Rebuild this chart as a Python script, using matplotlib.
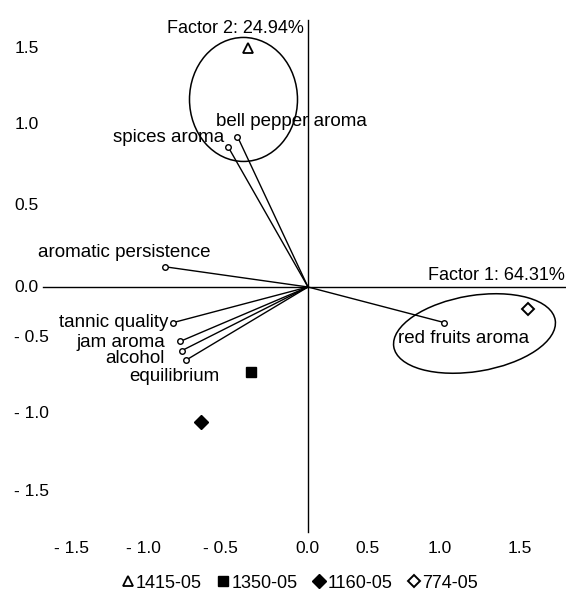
import matplotlib
matplotlib.use("Agg")
import matplotlib.pyplot as plt
from matplotlib.patches import Ellipse
from matplotlib.transforms import ScaledTranslation

plt.rcParams['font.family'] = ['Liberation Sans', 'DejaVu Sans']

# ---- data ----
variables = ["red fruits aroma", "bell pepper aroma", "spices aroma", "aromatic persistence",
             "tannic quality", "jam aroma", "alcohol", "equilibrium"]
var_f1 = [0.91, -0.47, -0.53, -0.95, -0.90, -0.85, -0.84, -0.81]
var_f2 = [-0.23, 0.97, 0.90, 0.13, -0.23, -0.35, -0.41, -0.47]

samples = ["1415-05", "1350-05", "1160-05", "774-05"]
samp_f1 = [-0.40, -0.38, -0.71, 1.47]
samp_f2 = [1.54, -0.55, -0.87, -0.14]

ell_center_f1 = [-0.43, 1.11]
ell_center_f2 = [1.21, -0.30]
ell_width = [0.72, 1.09]
ell_height = [0.80, 0.49]
ell_angle = [0, 9]

tick_values = [-1.5, -1.0, -0.5, 0.0, 0.5, 1.0, 1.5]
tick_labels = ["- 1.5", "- 1.0", "- 0.5", "0.0", "0.5", "1.0", "1.5"]

factor1_label = "Factor 1: 64.31%"
factor2_label = "Factor 2: 24.94%"

# ---- figure ----
W, H, DPI = 566, 599, 100
fig = plt.figure(figsize=(W / DPI, H / DPI), dpi=DPI)
ax = fig.add_axes([60 / W, 59 / H, 1 - 60 / W, 1 - 59 / H])
ax.set_xlim(-1.6533, 1.72)
ax.set_ylim(-1.6323, 1.8516)
for s in ax.spines.values():
    s.set_visible(False)

FS_TICK = 12.5
FS_VAR = 13.5
FS_FACTOR = 13

# axis lines through the origin
ax.plot([-1.767, 1.72], [0, 0], color='black', lw=1.0, clip_on=False)
ax.plot([0, 0], [-1.581, 1.723], color='black', lw=1.0, clip_on=False)

# variable vectors
label_style = {
    "red fruits aroma": (-46, -16, 'left'),
    "bell pepper aroma": (-21, 15, 'left'),
    "spices aroma": (-4, 10, 'right'),
    "aromatic persistence": (-41, 14, 'center'),
    "tannic quality": (-5, 0, 'right'),
    "jam aroma": (-15, -1, 'right'),
    "alcohol": (-17, -8, 'right'),
    "equilibrium": (33, -17, 'right'),
}
for name, x, y in zip(variables, var_f1, var_f2):
    ax.plot([0, x], [0, y], color='black', lw=1.0)
    ax.plot([x], [y], marker='o', ms=4, mfc='white', mec='black', mew=1.0)
    dx, dy, ha = label_style[name]
    ax.annotate(name, (x, y), xytext=(dx, dy), textcoords='offset pixels',
                ha=ha, va='center', fontsize=FS_VAR)

# ellipses
for cx, cy, w, h, a in zip(ell_center_f1, ell_center_f2, ell_width, ell_height, ell_angle):
    ax.add_patch(Ellipse((cx, cy), w, h, angle=a, fill=False, ec='black', lw=1.1))

# samples
marker_styles = [
    dict(marker='^', ms=7, mfc='white', mec='black', mew=1.3),
    dict(marker='s', ms=7, mfc='black', mec='black', mew=1.0),
    dict(marker='D', ms=7.5, mfc='black', mec='black', mew=1.0),
    dict(marker='D', ms=6.5, mfc='white', mec='black', mew=1.4),
]
handles = []
for name, x, y, st in zip(samples, samp_f1, samp_f2, marker_styles):
    h, = ax.plot([x], [y], linestyle='none', label=name, **st)
    handles.append(h)

# factor labels
ax.text(-0.03, 1.67, factor2_label, ha='right', va='center', fontsize=FS_FACTOR)
ax.text(1.713, 0.077, factor1_label, ha='right', va='center', fontsize=FS_FACTOR)

# ticks
ax.set_xticks(tick_values)
ax.set_xticklabels(tick_labels)
ax.set_yticks(tick_values)
ax.set_yticklabels(tick_labels)
ax.tick_params(axis='both', length=0, labelsize=FS_TICK)
ax.tick_params(axis='x', pad=1)
ax.tick_params(axis='y', pad=33)
for lab in ax.get_yticklabels():
    lab.set_horizontalalignment('left')

x_shift = [-11, -15, -13, -1, -15, -18, -13]
y_shift = [-29.5, -30, -28.5, -1, -5.5, -9, -7.5]  # positive = down
for lab, s in zip(ax.get_xticklabels(), x_shift):
    lab.set_transform(lab.get_transform() + ScaledTranslation(s / DPI, 0, fig.dpi_scale_trans))
for lab, s in zip(ax.get_yticklabels(), y_shift):
    lab.set_transform(lab.get_transform() + ScaledTranslation(0, -s / DPI, fig.dpi_scale_trans))

# legend
fig.legend(handles=handles, labels=samples, loc='center', ncol=4, frameon=False,
           bbox_to_anchor=(300 / W, 1 - 583 / H), fontsize=FS_FACTOR,
           handlelength=0.6, handletextpad=0.15, columnspacing=0.9, borderpad=0)

fig.savefig("out.png", dpi=DPI)
